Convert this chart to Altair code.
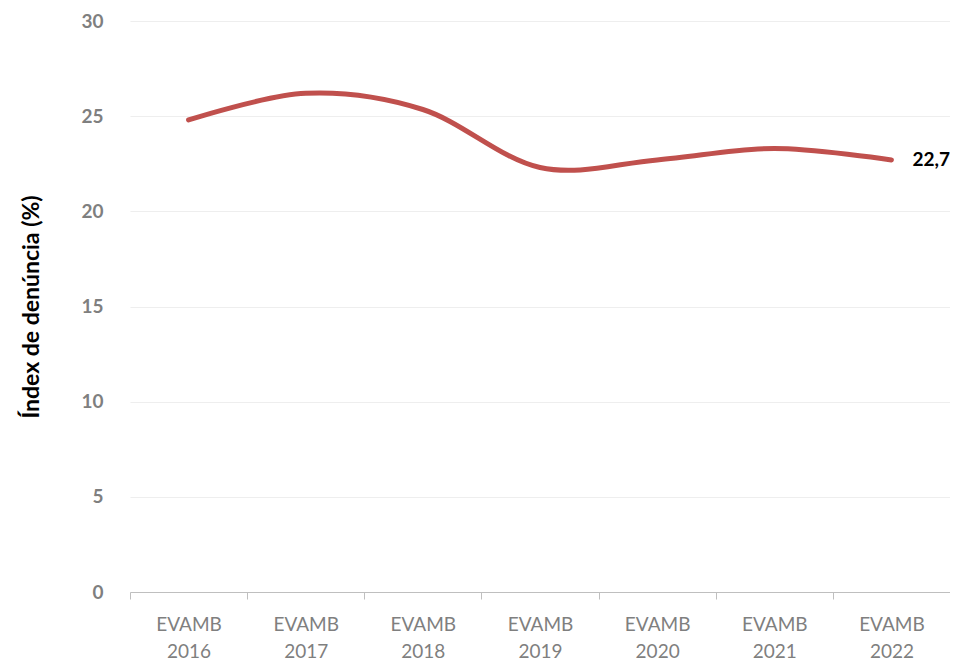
import altair as alt
import pandas as pd

categories = ["EVAMB 2016", "EVAMB 2017", "EVAMB 2018", "EVAMB 2019",
              "EVAMB 2020", "EVAMB 2021", "EVAMB 2022"]
values = [24.8, 26.2, 25.35, 22.3, 22.7, 23.3, 22.7]

df = pd.DataFrame({"cat": categories, "v": values})

FONT = "Lato"

x = alt.X("cat:N", sort=categories, bandPosition=0.5,
          scale=alt.Scale(type="band", paddingInner=0, paddingOuter=0),
          axis=alt.Axis(title=None, labelExpr="split(datum.label, ' ')",
                        labelAngle=0, labelFont=FONT, labelFontSize=19,
                        labelColor="#7f7f7f", labelLineHeight=27,
                        labelPadding=16, tickBand="extent", tickSize=7,
                        tickColor="#bfbfbf", domainColor="#bfbfbf",
                        domainWidth=1.2, grid=False))
y = alt.Y("v:Q", scale=alt.Scale(domain=[0, 30], nice=False),
          axis=alt.Axis(title="Índex de denúncia (%)", values=[0, 5, 10, 15, 20, 25, 30],
                        titleFont=FONT, titleFontSize=23, titleFontWeight="bold",
                        titleColor="#000000", titlePadding=37,
                        labelFont=FONT, labelFontSize=19, labelFontWeight="bold",
                        labelColor="#7f7f7f", labelPadding=27,
                        domain=False, ticks=False, grid=True,
                        gridColor="#eeeeee", gridWidth=1.2))

line = alt.Chart(df).mark_line(color="#c0504d", strokeWidth=5,
                               interpolate="cardinal", strokeCap="round").encode(x=x, y=y)

label = alt.Chart(df).transform_filter(
    alt.datum.cat == categories[-1]
).transform_calculate(
    lab="replace(format(datum.v, '.1f'), '.', ',')"
).mark_text(align="left", dx=21, font=FONT, fontSize=19, fontWeight="bold",
            color="#000000").encode(x=x, y=y, text="lab:N")

chart = alt.layer(line, label).properties(
    width=820, height=571,
    autosize=alt.AutoSizeParams(type="none"),
    padding={"left": 122, "top": 13, "right": 0, "bottom": 90},
).configure_view(stroke=None)

chart.save("out.html", embed_options={"renderer": "svg", "actions": False})
